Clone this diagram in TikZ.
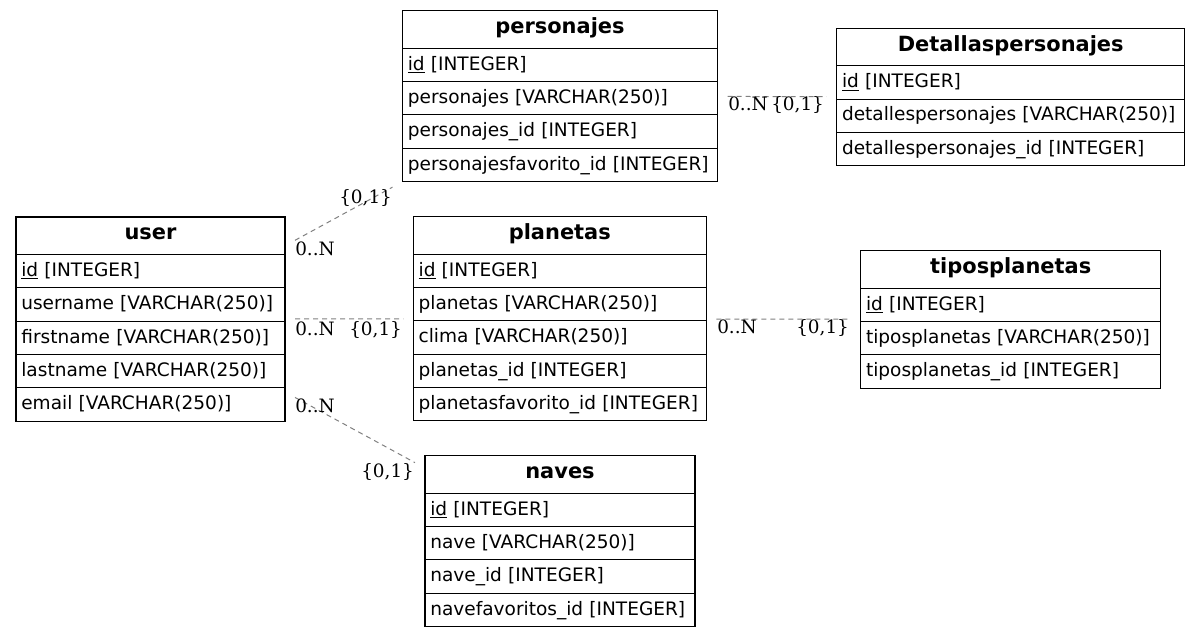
\documentclass[tikz,border=0pt]{standalone}
\usepackage{fontspec}
\newfontfamily\tablefont{DejaVu Sans}
\newfontfamily\cardfont{DejaVu Serif}
\usetikzlibrary{positioning, fit}

\begin{document}
\begin{tikzpicture}[
  x=0.75pt, y=-0.75pt,
  header/.style={rectangle, draw, line width=0.8pt, anchor=north west,
    text width=#1, align=center, inner xsep=4pt, inner ysep=0pt,
    minimum height=28.1pt, text height=10pt, text depth=4pt, outer sep=0pt,
    font=\tablefont\bfseries\fontsize{15.7}{18}\selectfont},
  column/.style={rectangle, draw, line width=0.8pt,
    text width=#1, align=left, inner xsep=4pt, inner ysep=0pt,
    minimum height=25pt, text height=10.8pt, text depth=3pt, outer sep=0pt,
    font=\tablefont\fontsize{13.9}{16}\selectfont},
  tablebox/.style={rectangle, inner sep=0pt, outer sep=7.5pt},
  rel/.style={gray, line width=0.75pt, dash pattern=on 3.75pt off 3pt},
  card/.style={inner sep=0pt, anchor=base west,
    font=\cardfont\fontsize{13.8}{16}\selectfont}
]
  \useasboundingbox (0,0) rectangle (1200,637);

  % user table
  \node[header=193.75pt] (user0) at (16,217) {user};
  \foreach \f [count=\i] in {\underline{id} [INTEGER], username [VARCHAR(250)],
      firstname [VARCHAR(250)], lastname [VARCHAR(250)], email [VARCHAR(250)]} {
    \pgfmathtruncatemacro\j{\i-1}
    \node[column=193.75pt, below=0pt of user\j] (user\i) {\f};
  }
  \node[tablebox, fit=(user0)(user5)] (user) {};

  % personajes table
  \node[header=228.25pt] (pers0) at (402.5,10.7) {personajes};
  \foreach \f [count=\i] in {\underline{id} [INTEGER], personajes [VARCHAR(250)],
      personajes\_id [INTEGER], personajesfavorito\_id [INTEGER]} {
    \pgfmathtruncatemacro\j{\i-1}
    \node[column=228.25pt, below=0pt of pers\j] (pers\i) {\f};
  }
  \node[tablebox, fit=(pers0)(pers4)] (personajes) {};

  % Detallaspersonajes table
  \node[header=253pt] (det0) at (836.7,28.3) {Detallaspersonajes};
  \foreach \f [count=\i] in {\underline{id} [INTEGER], detallespersonajes [VARCHAR(250)],
      detallespersonajes\_id [INTEGER]} {
    \pgfmathtruncatemacro\j{\i-1}
    \node[column=253pt, below=0pt of det\j] (det\i) {\f};
  }
  \node[tablebox, fit=(det0)(det3)] (detalles) {};

  % planetas table
  \node[header=211.75pt] (plan0) at (413.3,216.7) {planetas};
  \foreach \f [count=\i] in {\underline{id} [INTEGER], planetas [VARCHAR(250)],
      clima [VARCHAR(250)], planetas\_id [INTEGER], planetasfavorito\_id [INTEGER]} {
    \pgfmathtruncatemacro\j{\i-1}
    \node[column=211.75pt, below=0pt of plan\j] (plan\i) {\f};
  }
  \node[tablebox, fit=(plan0)(plan5)] (planetas) {};

  % tiposplanetas table
  \node[header=217pt] (tipo0) at (860.7,250.7) {tiposplanetas};
  \foreach \f [count=\i] in {\underline{id} [INTEGER], tiposplanetas [VARCHAR(250)],
      tiposplanetas\_id [INTEGER]} {
    \pgfmathtruncatemacro\j{\i-1}
    \node[column=217pt, below=0pt of tipo\j] (tipo\i) {\f};
  }
  \node[tablebox, fit=(tipo0)(tipo3)] (tipos) {};

  % naves table
  \node[header=194.5pt] (nave0) at (425,455.7) {naves};
  \foreach \f [count=\i] in {\underline{id} [INTEGER], nave [VARCHAR(250)],
      nave\_id [INTEGER], navefavoritos\_id [INTEGER]} {
    \pgfmathtruncatemacro\j{\i-1}
    \node[column=194.5pt, below=0pt of nave\j] (nave\i) {\f};
  }
  \node[tablebox, fit=(nave0)(nave4)] (naves) {};

  % Relations
  \draw[rel] (user) -- (personajes);
  \draw[rel] (user) -- (planetas);
  \draw[rel] (user) -- (naves);
  \draw[rel] (personajes) -- (detalles);
  \draw[rel] (planetas) -- (tipos);

  % Cardinalities
  \node[card] (many1) at (295,255)   {0..N};
  \node[card] (one1)  at (339,203.5) {\{0,1\}};
  \node[card] (many2) at (295,335)   {0..N};
  \node[card] (one2)  at (349,335)   {\{0,1\}};
  \node[card] (many3) at (295,412)   {0..N};
  \node[card] (one3)  at (361,477)   {\{0,1\}};
  \node[card] (many4) at (728,110)   {0..N};
  \node[card] (one4)  at (771,110)   {\{0,1\}};
  \node[card] (many5) at (717,333)   {0..N};
  \node[card] (one5)  at (796,333)   {\{0,1\}};
\end{tikzpicture}
\end{document}
